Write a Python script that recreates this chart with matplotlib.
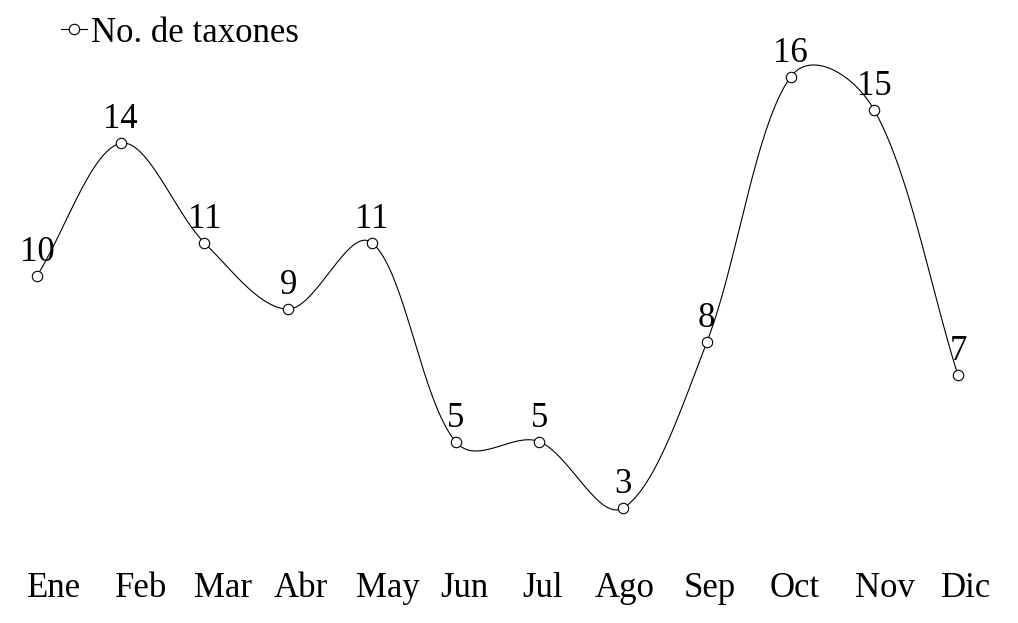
import matplotlib
matplotlib.use("Agg")
import matplotlib.pyplot as plt
import numpy as np

plt.rcParams['font.family'] = ['Liberation Serif', 'DejaVu Serif']

months = ["Ene", "Feb", "Mar", "Abr", "May", "Jun", "Jul", "Ago", "Sep", "Oct", "Nov", "Dic"]
taxones = [10, 14, 11, 9, 11, 5, 5, 3, 8, 16, 15, 7]

# month labels are not centred exactly under the points in the original
label_pos = [0.20, 1.24, 2.22, 3.15, 4.19, 5.11, 6.04, 7.02, 8.03, 9.05, 10.13, 11.10]

XSCALE, YSCALE = 83.7, 33.2  # pixels per unit, used for the smoothing


def smooth(xs, ys, n=40):
    # spreadsheet-like smoothed line: cubic Bezier with centripetal weights
    P = np.column_stack([np.asarray(xs, float) * XSCALE, np.asarray(ys, float) * YSCALE])
    P = np.vstack([P[0], P, P[-1]])
    t = np.linspace(0, 1, n)[:, None]
    out = []
    for i in range(1, len(P) - 2):
        d0 = np.sqrt(np.linalg.norm(P[i] - P[i - 1]))
        d1 = np.sqrt(np.linalg.norm(P[i + 1] - P[i]))
        d2 = np.sqrt(np.linalg.norm(P[i + 2] - P[i + 1]))
        f1 = d1 / (3 * (d0 + d1)) if d0 + d1 > 0 else 0
        f2 = d1 / (3 * (d1 + d2)) if d1 + d2 > 0 else 0
        c1 = P[i] + (P[i + 1] - P[i - 1]) * f1
        c2 = P[i + 1] - (P[i + 2] - P[i]) * f2
        b = (1 - t) ** 3 * P[i] + 3 * (1 - t) ** 2 * t * c1 + 3 * (1 - t) * t ** 2 * c2 + t ** 3 * P[i + 1]
        out.append(b)
    out = np.vstack(out)
    return out[:, 0] / XSCALE, out[:, 1] / YSCALE


fig = plt.figure(figsize=(10.18, 6.23), dpi=100)
ax = fig.add_axes([37 / 1018, (623 - 508) / 623, 11.3 * 921 / 11 / 1018, 431 / 623])

x = np.arange(len(months))
sx, sy = smooth(x, taxones)
ax.plot(sx, sy, color="black", lw=0.8, clip_on=False)
ax.plot(x, taxones, linestyle="none", marker="o", markersize=7.5,
        markerfacecolor="white", markeredgecolor="black", markeredgewidth=0.8,
        clip_on=False, zorder=3)
ax.plot([], [], color="black", lw=0.8, marker="o", markersize=7.5,
        markerfacecolor="white", markeredgecolor="black", markeredgewidth=0.8,
        label="No. de taxones")

for xi, v in zip(x, taxones):
    ax.annotate(str(v), (xi, v), xytext=(0, 5), textcoords="offset points",
                ha="center", va="bottom", fontsize=25)

ax.set_xticks(label_pos)
ax.set_xticklabels(months, fontsize=25)
ax.set_xlim(0, 11.3)
ax.set_ylim(3, 16)
ax.tick_params(axis="x", length=0, pad=46)
ax.set_yticks([])
for s in ax.spines.values():
    s.set_visible(False)

fig.legend(loc="center left", bbox_to_anchor=(61 / 1018, 1 - 33 / 623), frameon=False,
           fontsize=25, handlelength=0.75, handletextpad=0.1, borderaxespad=0,
           borderpad=0)

fig.savefig("out.png", dpi=100)
